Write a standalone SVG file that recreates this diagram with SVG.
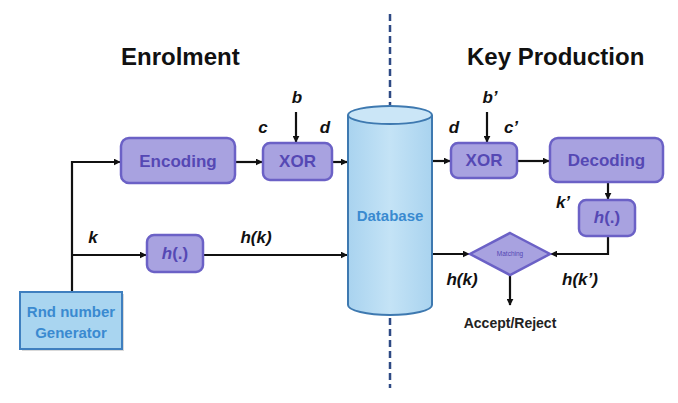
<svg xmlns="http://www.w3.org/2000/svg" width="678" height="403" viewBox="0 0 678 403">
<defs>
<marker id="ah" viewBox="0 0 10 10" refX="9" refY="5" markerWidth="7" markerHeight="7" markerUnits="userSpaceOnUse" orient="auto"><path d="M0,0 L10,5 L0,10 z" fill="#111"/></marker>
<linearGradient id="cyl" x1="0" x2="1" y1="0" y2="0"><stop offset="0" stop-color="#a9d3ef"/><stop offset="0.5" stop-color="#c4e3f6"/><stop offset="1" stop-color="#a9d3ef"/></linearGradient>
</defs>
<style>
.box{fill:#a8a2e0;stroke:#6b61c6;stroke-width:2.5}
.btxt{font-family:"Liberation Sans",Arial,sans-serif;font-weight:bold;fill:#5548b4;text-anchor:middle}
.lbl{font-family:"Liberation Sans",Arial,sans-serif;font-weight:bold;font-style:italic;font-size:17px;fill:#111;text-anchor:middle}
.title{font-family:"Liberation Sans",Arial,sans-serif;font-weight:bold;font-size:24px;fill:#111}
.conn{stroke:#111;stroke-width:2.2;fill:none}
.shadow{fill:#000;opacity:0.15}
</style>
<rect width="678" height="403" fill="#fff"/>
<line x1="390" y1="14" x2="390" y2="108" stroke="#2e4a84" stroke-width="2.5" stroke-dasharray="7,4"/>
<line x1="390" y1="318" x2="390" y2="388" stroke="#2e4a84" stroke-width="2.5" stroke-dasharray="7,4"/>
<text class="title" x="121" y="65">Enrolment</text>
<text class="title" x="467" y="65">Key Production</text>
<g id="connectors">
<polyline class="conn" points="72,292 72,162 120,162" marker-end="url(#ah)"/>
<line class="conn" x1="72" y1="255" x2="146" y2="255" marker-end="url(#ah)"/>
<line class="conn" x1="203" y1="255" x2="347" y2="255" marker-end="url(#ah)"/>
<line class="conn" x1="235" y1="162" x2="262" y2="162" marker-end="url(#ah)"/>
<line class="conn" x1="332" y1="162" x2="347" y2="162" marker-end="url(#ah)"/>
<line class="conn" x1="296" y1="112" x2="296" y2="142" marker-end="url(#ah)"/>
<line class="conn" x1="432" y1="161" x2="450" y2="161" marker-end="url(#ah)"/>
<line class="conn" x1="487" y1="112" x2="487" y2="142" marker-end="url(#ah)"/>
<line class="conn" x1="517" y1="161" x2="549" y2="161" marker-end="url(#ah)"/>
<line class="conn" x1="608" y1="182" x2="608" y2="199" marker-end="url(#ah)"/>
<polyline class="conn" points="608,236 608,254 551,254" marker-end="url(#ah)"/>
<line class="conn" x1="432" y1="254" x2="469" y2="254" marker-end="url(#ah)"/>
<line class="conn" x1="510" y1="275" x2="510" y2="305" marker-end="url(#ah)"/>
</g>
<g id="rng">
<rect x="22" y="294" width="102" height="57" class="shadow"/>
<rect x="20" y="292" width="102" height="57" fill="#a9d5f0" stroke="#3f7fbf" stroke-width="2"/>
<text x="71" y="317" font-family="Liberation Sans,Arial,sans-serif" font-weight="bold" font-size="15" fill="#3a8ad0" text-anchor="middle">Rnd number</text>
<text x="71" y="338" font-family="Liberation Sans,Arial,sans-serif" font-weight="bold" font-size="15" fill="#3a8ad0" text-anchor="middle">Generator</text>
</g>
<g id="encoding">
<rect x="121" y="138" width="114" height="45" rx="8" class="box"/>
<text class="btxt" x="178" y="167" font-size="17">Encoding</text>
</g>
<g id="xor1">
<rect x="263" y="143" width="69" height="37" rx="7" class="box"/>
<text class="btxt" x="297.5" y="167" font-size="17">XOR</text>
</g>
<g id="hash1">
<rect x="147" y="235" width="56" height="37" rx="7" class="box"/>
<text class="btxt" x="175" y="259" font-size="17"><tspan font-style="italic">h</tspan>(.)</text>
</g>
<g id="database">
<path d="M348,115 L348,305 A42,10 0 0 0 432,305 L432,115" fill="url(#cyl)" stroke="#3e79b0" stroke-width="2"/>
<ellipse cx="390" cy="115" rx="42" ry="9" fill="#cbe6f7" stroke="#3e79b0" stroke-width="2"/>
<text x="390" y="221" font-family="Liberation Sans,Arial,sans-serif" font-weight="bold" font-size="15" fill="#3a8ad0" text-anchor="middle">Database</text>
</g>
<g id="xor2">
<rect x="451" y="143" width="66" height="35" rx="7" class="box"/>
<text class="btxt" x="484" y="166" font-size="17">XOR</text>
</g>
<g id="decoding">
<rect x="550" y="138" width="113" height="44" rx="8" class="box"/>
<text class="btxt" x="606.5" y="166" font-size="17">Decoding</text>
</g>
<g id="hash2">
<rect x="579" y="200" width="56" height="36" rx="7" class="box"/>
<text class="btxt" x="607" y="223" font-size="17"><tspan font-style="italic">h</tspan>(.)</text>
</g>
<g id="matching">
<polygon points="510,233 550,254 510,275 470,254" fill="#a8a2e0" stroke="#6b61c6" stroke-width="2.5"/>
<text x="510" y="256" font-family="Liberation Sans,Arial,sans-serif" font-size="6.5" fill="#5548b4" text-anchor="middle">Matching</text>
</g>
<g id="labels">
<text class="lbl" x="297" y="103">b</text>
<text class="lbl" x="263" y="133">c</text>
<text class="lbl" x="325" y="133">d</text>
<text class="lbl" x="490" y="103">b’</text>
<text class="lbl" x="454" y="133">d</text>
<text class="lbl" x="511" y="133">c’</text>
<text class="lbl" x="93" y="243">k</text>
<text class="lbl" x="256" y="243">h(k)</text>
<text class="lbl" x="563" y="208">k’</text>
<text class="lbl" x="462" y="285">h(k)</text>
<text class="lbl" x="580" y="285">h(k’)</text>
<text x="510" y="328" font-family="Liberation Sans,Arial,sans-serif" font-weight="bold" font-size="14" fill="#222" text-anchor="middle">Accept/Reject</text>
</g>
</svg>
